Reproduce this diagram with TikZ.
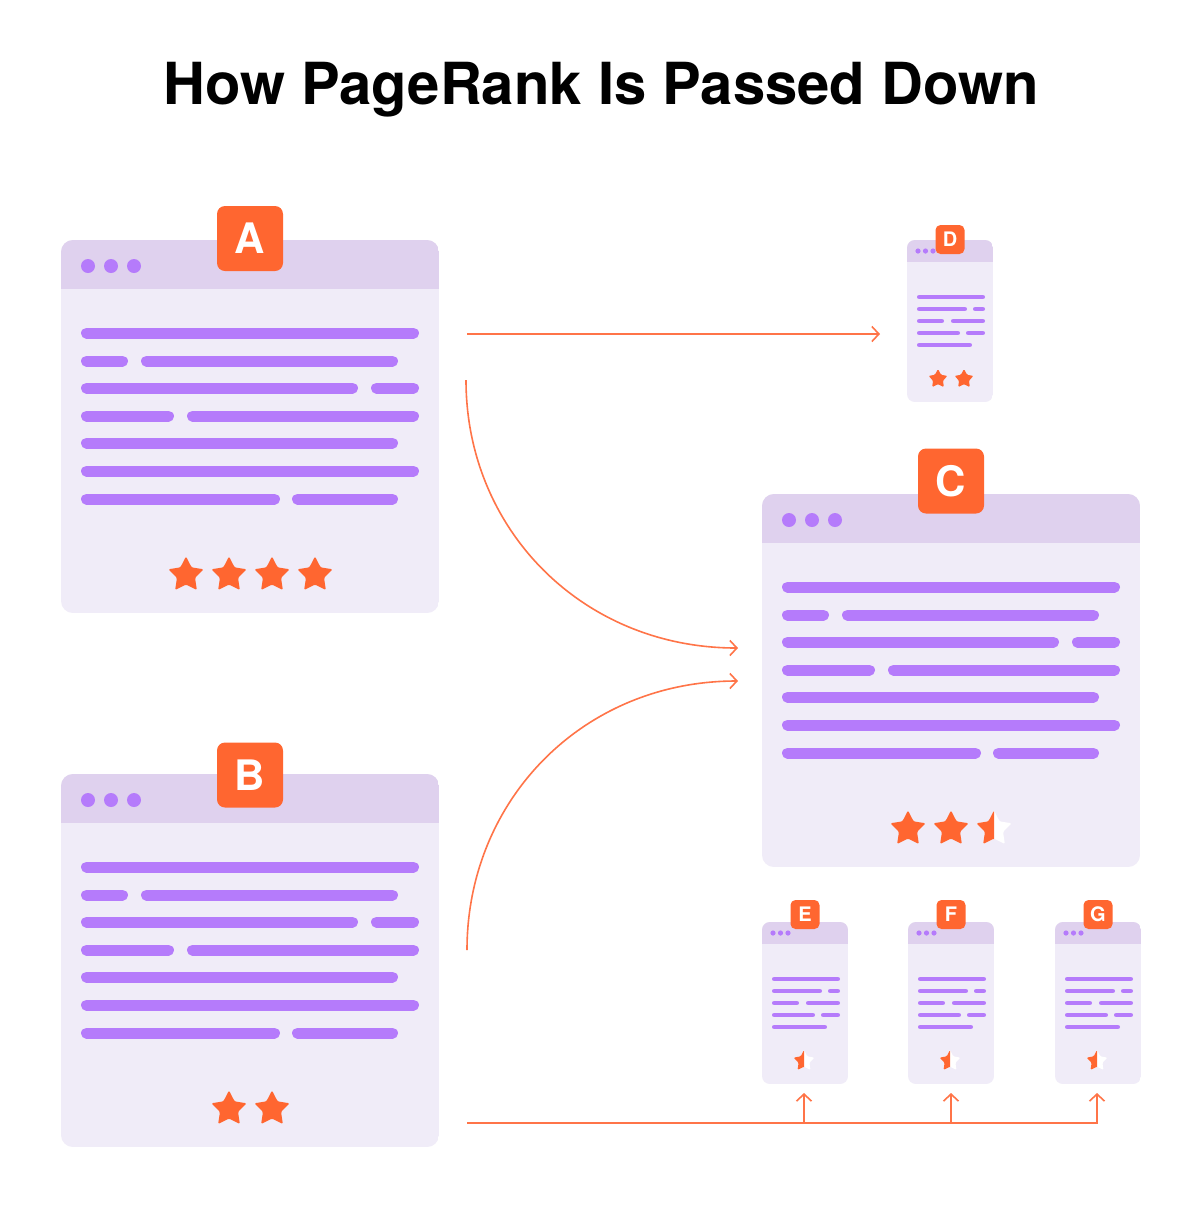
\documentclass[tikz,border=0pt]{standalone}
\usepackage{fontspec}
\setmainfont{TeX Gyre Heros}
\usetikzlibrary{arrows.meta,calc}
\definecolor{hdr}{HTML}{DFD1EE}
\definecolor{bdy}{HTML}{F0ECF8}
\definecolor{txt}{HTML}{B57BFB}
\definecolor{org}{HTML}{FF6630}
\definecolor{arr}{HTML}{FF7448}
\tikzset{
  bigline/.style={draw=txt, line width=5.5pt, line cap=round},
  smallline/.style={draw=txt, line width=2.4pt, line cap=round},
  badgebig/.style={fill=org, text=white, rounded corners=4pt, minimum width=33pt, minimum height=32.5pt, inner sep=0pt, font=\fontsize{21}{21}\selectfont\bfseries},
  badgesmall/.style={fill=org, text=white, rounded corners=2.5pt, minimum width=14.5pt, minimum height=14.5pt, inner sep=0pt, font=\fontsize{10}{10}\selectfont\bfseries},
  conn/.style={draw=arr, line width=0.8pt, -{Straight Barb[length=3.5pt,width=7.5pt]}},
  pagebox/.style={inner sep=0pt, draw=none}
}
% star: x, y, outer radius, inner radius
\newcommand\ostar[4]{\fill[org, rounded corners=0.6pt, shift={(#1,#2)}] (-90:#3) -- (-54:#4) -- (-18:#3) -- (18:#4) -- (54:#3) -- (90:#4) -- (126:#3) -- (162:#4) -- (198:#3) -- (234:#4) -- cycle;}
\newcommand\wstar[4]{\fill[white, rounded corners=0.6pt, shift={(#1,#2)}] (-90:#3) -- (-54:#4) -- (-18:#3) -- (18:#4) -- (54:#3) -- (90:#4) -- (126:#3) -- (162:#4) -- (198:#3) -- (234:#4) -- cycle;}
\newcommand\hstar[4]{\wstar{#1}{#2}{#3}{#4}\begin{scope}\clip (#1-#3-2,#2-#3-2) rectangle (#1,#2+#3+2);\ostar{#1}{#2}{#3}{#4}\end{scope}}
% big page: name, x, y, letter, badge y offset
\newcommand\bigpage[5]{%
\begin{scope}[shift={(#2,#3)}]
  \begin{scope}
    \clip[rounded corners=6pt] (0,0) rectangle (378,373);
    \fill[bdy] (0,0) rectangle (378,373);
    \fill[hdr] (0,0) rectangle (378,49);
  \end{scope}
  \node[pagebox, minimum width=189pt, minimum height=186.5pt] (#1) at (189,186.5) {};
  \foreach \d in {27,50,73} \fill[txt] (\d,26) circle (3.5pt);
  \foreach \yy/\aa/\bb in {93/20/358, 121/20/67, 121/80/337, 148/20/297, 148/310/358, 176/20/113, 176/126/358, 203/20/337, 231/20/358, 259/20/219, 259/231/337}
    \draw[bigline] (\aa+5.5,\yy) -- (\bb-5.5,\yy);
  \node[badgebig] (#1badge) at (189,#5) {#4};
\end{scope}}
% small page: name, x, y, letter, badge y offset
\newcommand\smallpage[5]{%
\begin{scope}[shift={(#2,#3)}]
  \begin{scope}
    \clip[rounded corners=4pt] (0,0) rectangle (86,162);
    \fill[bdy] (0,0) rectangle (86,162);
    \fill[hdr] (0,0) rectangle (86,22);
  \end{scope}
  \node[pagebox, minimum width=43pt, minimum height=81pt] (#1) at (43,81) {};
  \foreach \d in {11,18.5,26} \fill[txt] (\d,11) circle (1.3pt);
  \foreach \yy/\aa/\bb in {57/10/78, 69/10/60, 69/66/78, 81/10/37, 81/44/78, 93/10/53, 93/59/78, 105/10/65}
    \draw[smallline] (\aa+2.4,\yy) -- (\bb-2.4,\yy);
  \node[badgesmall] (#1badge) at (43,#5) {#4};
\end{scope}}
\begin{document}
\begin{tikzpicture}[x=0.5pt,y=-0.5pt]
\useasboundingbox (0,0) rectangle (1200,1207);
\fill[white] (0,0) rectangle (1200,1207);
\node[anchor=base, font=\fontsize{29}{29}\selectfont\bfseries] (title) at (601,104) {How PageRank Is Passed Down};

\bigpage{A}{61}{240}{A}{-1.5}
\bigpage{B}{61}{774}{B}{1}
\bigpage{C}{762}{494}{C}{-13}
\smallpage{D}{907}{240}{D}{-0.5}
\smallpage{E}{762}{922}{E}{-7.5}
\smallpage{F}{908}{922}{F}{-7.5}
\smallpage{G}{1055}{922}{G}{-7.5}

% stars
\ostar{186}{575}{18.5}{9.5}\ostar{229}{575}{18.5}{9.5}\ostar{272}{575}{18.5}{9.5}\ostar{315}{575}{18.5}{9.5}
\ostar{229}{1109}{18.5}{9.5}\ostar{272}{1109}{18.5}{9.5}
\ostar{908}{829}{18.5}{9.5}\ostar{951}{829}{18.5}{9.5}\hstar{994}{829}{18.5}{9.5}
\ostar{938}{379}{10}{5.2}\ostar{964}{379}{10}{5.2}
\hstar{804}{1061}{11}{5.7}\hstar{950}{1061}{11}{5.7}\hstar{1097}{1061}{11}{5.7}

% connector coordinates
\coordinate (a1) at (467,334);
\coordinate (d1) at (880,334);
\coordinate (a2) at (466,380);
\coordinate (c1) at (738,648);
\coordinate (b1) at (467,950);
\coordinate (c2) at (738,681);
\coordinate (b2) at (467,1123);
\coordinate (e0) at (804,1123);
\coordinate (f0) at (951,1123);
\coordinate (g0) at (1097,1123);
\coordinate (eT) at (804,1093);
\coordinate (fT) at (951,1093);
\coordinate (gT) at (1097,1093);

\draw[conn] (a1) -- (d1);
\draw[conn] (a2) .. controls ($(a2)+(0,150)$) and ($(c1)+(-155,0)$) .. (c1);
\draw[conn] (b1) .. controls ($(b1)+(0,-150)$) and ($(c2)+(-155,0)$) .. (c2);
\draw[conn] (b2) -- (g0) -- (gT);
\draw[conn] (e0) -- (eT);
\draw[conn] (f0) -- (fT);
\end{tikzpicture}
\end{document}
